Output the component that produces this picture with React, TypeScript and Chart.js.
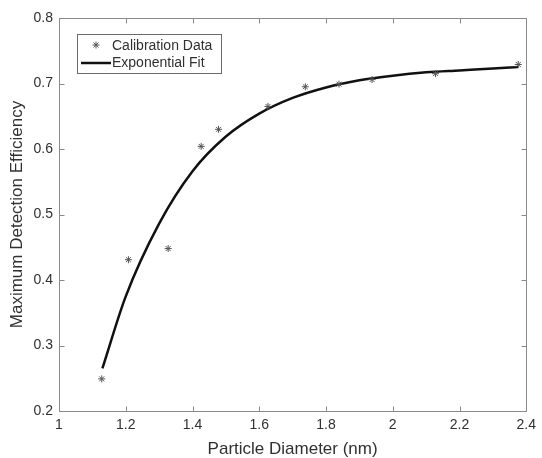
import React, { useEffect, useRef } from "react";
import { Chart, registerables } from "chart.js";

Chart.register(...registerables);

// Calibration data
const diameters = [1.128, 1.208, 1.327, 1.426, 1.478, 1.626, 1.738, 1.839, 1.938, 2.128, 2.376];
const efficiency = [0.249, 0.431, 0.448, 0.604, 0.63, 0.665, 0.695, 0.699, 0.706, 0.715, 0.729];

// Exponential fit curve
const fitX = [1.13, 1.2, 1.3, 1.4, 1.5, 1.6, 1.7, 1.8, 1.9, 2.0, 2.1, 2.2, 2.3, 2.376];
const fitY = [0.265, 0.375, 0.486, 0.566, 0.619, 0.654, 0.678, 0.694, 0.705, 0.712, 0.717, 0.72, 0.723, 0.725];

const xTicks = [1, 1.2, 1.4, 1.6, 1.8, 2, 2.2, 2.4];
const yTicks = [0.2, 0.3, 0.4, 0.5, 0.6, 0.7, 0.8];

const seriesLabels = ["Calibration Data", "Exponential Fit"];
const xTitle = "Particle Diameter (nm)";
const yTitle = "Maximum Detection Efficiency";

const FONT = "'Liberation Sans', Arial, Helvetica, sans-serif";
const TEXT = "#303030";
const AXIS = "#8a8a8a";

const boxPlugin = {
  id: "matlabBox",
  afterDraw(chart: any) {
    const { ctx, chartArea } = chart;
    const { left, right, top, bottom } = chartArea;
    const xs = chart.scales.x;
    const ys = chart.scales.y;
    ctx.save();
    ctx.strokeStyle = AXIS;
    ctx.lineWidth = 1;
    const L = Math.round(left) + 0.5;
    const R = Math.round(right) + 0.5;
    const T = Math.round(top) + 0.5;
    const B = Math.round(bottom) + 0.5;
    ctx.beginPath();
    ctx.rect(L, T, R - L, B - T);
    ctx.stroke();
    const tl = 5;
    ctx.beginPath();
    xTicks.forEach((v) => {
      const px = Math.round(xs.getPixelForValue(v)) + 0.5;
      ctx.moveTo(px, B);
      ctx.lineTo(px, B - tl);
      ctx.moveTo(px, T);
      ctx.lineTo(px, T + tl);
    });
    yTicks.forEach((v) => {
      const py = Math.round(ys.getPixelForValue(v)) + 0.5;
      ctx.moveTo(L, py);
      ctx.lineTo(L + tl, py);
      ctx.moveTo(R, py);
      ctx.lineTo(R - tl, py);
    });
    ctx.stroke();

    // Legend box inside plot
    const lx = 77.5, ly = 34.5, lw = 144, lh = 39;
    ctx.fillStyle = "#ffffff";
    ctx.fillRect(lx, ly, lw, lh);
    ctx.strokeStyle = "#6a6a6a";
    ctx.strokeRect(lx, ly, lw, lh);

    const ds = chart.data.datasets;
    // marker
    const mx = 96, my = 45, r = 3.5;
    ctx.strokeStyle = ds[0].borderColor;
    ctx.lineWidth = 1;
    ctx.beginPath();
    for (let i = 0; i < 4; i++) {
      const a = (i * Math.PI) / 4;
      ctx.moveTo(mx - r * Math.cos(a), my - r * Math.sin(a));
      ctx.lineTo(mx + r * Math.cos(a), my + r * Math.sin(a));
    }
    ctx.stroke();
    // line sample
    ctx.strokeStyle = ds[1].borderColor;
    ctx.lineWidth = 2.5;
    ctx.beginPath();
    ctx.moveTo(81, 63);
    ctx.lineTo(111, 63);
    ctx.stroke();

    ctx.fillStyle = TEXT;
    ctx.font = `14px ${FONT}`;
    ctx.textBaseline = "middle";
    ctx.textAlign = "left";
    ctx.fillText(ds[0].label, 112, 46);
    ctx.fillText(ds[1].label, 112, 63);
    ctx.restore();
  },
};

export default function App() {
  const ref = useRef<HTMLCanvasElement | null>(null);

  useEffect(() => {
    if (!ref.current) return;
    const chart = new Chart(ref.current, {
      type: "scatter",
      data: {
        datasets: [
          {
            label: seriesLabels[0],
            data: diameters.map((x, i) => ({ x, y: efficiency[i] })),
            pointStyle: "star",
            radius: 3.5,
            borderColor: "#555555",
            backgroundColor: "#555555",
            borderWidth: 1,
            showLine: false,
          },
          {
            label: seriesLabels[1],
            data: fitX.map((x, i) => ({ x, y: fitY[i] })),
            showLine: true,
            borderColor: "#111111",
            backgroundColor: "#111111",
            borderWidth: 2.5,
            pointRadius: 0,
            cubicInterpolationMode: "monotone",
          },
        ],
      },
      options: {
        responsive: false,
        animation: false,
        layout: { padding: { left: 0, right: 11, top: 18, bottom: 0 } },
        plugins: { legend: { display: false }, tooltip: { enabled: false } },
        scales: {
          x: {
            type: "linear",
            min: 1,
            max: 2.4,
            afterBuildTicks: (s: any) => {
              s.ticks = xTicks.map((v) => ({ value: v }));
            },
            afterFit: (s: any) => {
              s.height = 47;
            },
            grid: { display: false, drawTicks: false },
            border: { display: false },
            ticks: {
              color: TEXT,
              font: { family: FONT, size: 14 },
              padding: 6,
              maxRotation: 0,
              autoSkip: false,
              callback: (v: any) => String(Number(v)),
            },
            title: {
              display: true,
              text: xTitle,
              color: TEXT,
              font: { family: FONT, size: 17, lineHeight: 1 },
              padding: { top: 0, bottom: 0 },
            },
          },
          y: {
            type: "linear",
            min: 0.2,
            max: 0.8,
            afterBuildTicks: (s: any) => {
              s.ticks = yTicks.map((v) => ({ value: v }));
            },
            afterFit: (s: any) => {
              s.width = 59;
            },
            grid: { display: false, drawTicks: false },
            border: { display: false },
            ticks: {
              color: TEXT,
              font: { family: FONT, size: 14 },
              padding: 6,
              autoSkip: false,
              callback: (v: any) => Number(v).toFixed(1),
            },
            title: {
              display: true,
              text: yTitle,
              color: TEXT,
              font: { family: FONT, size: 17, lineHeight: 1 },
              padding: { top: 9, bottom: 0 },
            },
          },
        },
      },
      plugins: [boxPlugin],
    } as any);
    return () => chart.destroy();
  }, []);

  return (
    <div style={{ position: "fixed", left: 0, top: 0, width: 542, height: 458, background: "#fff" }}>
      <canvas ref={ref} width={542} height={458} style={{ display: "block", width: 542, height: 458 }} />
    </div>
  );
}
